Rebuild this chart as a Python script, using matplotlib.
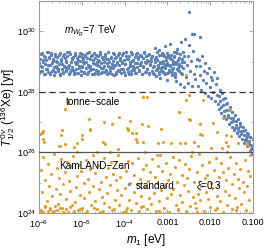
import matplotlib
matplotlib.use("Agg")
import matplotlib.pyplot as plt
import numpy as np
from matplotlib.ticker import LogLocator, NullFormatter

# ---- data (log10 m1 [eV], log10 T1/2 [yr]) ----

# blue band, flat part
band_logm = [
    -5.99, -5.97, -5.96, -5.94, -5.92, -5.91, -5.89, -5.87, -5.85, -5.84,
    -5.82, -5.80, -5.79, -5.77, -5.75, -5.74, -5.72, -5.70, -5.68, -5.67,
    -5.65, -5.63, -5.62, -5.60, -5.58, -5.57, -5.55, -5.53, -5.51, -5.50,
    -5.48, -5.46, -5.45, -5.43, -5.41, -5.40, -5.38, -5.36, -5.34, -5.33,
    -5.31, -5.29, -5.28, -5.26, -5.24, -5.23, -5.21, -5.19, -5.17, -5.16,
    -5.14, -5.12, -5.11, -5.09, -5.07, -5.06, -5.04, -5.02, -5.00, -4.99,
    -4.97, -4.95, -4.94, -4.92, -4.90, -4.89, -4.87, -4.85, -4.83, -4.82,
    -4.80, -4.78, -4.77, -4.75, -4.73, -4.72, -4.70, -4.68, -4.66, -4.65,
    -4.63, -4.61, -4.60, -4.58, -4.56, -4.55, -4.53, -4.51, -4.49, -4.48,
    -4.46, -4.44, -4.43, -4.41, -4.39, -4.38, -4.36, -4.34, -4.32, -4.31,
    -4.29, -4.27, -4.26, -4.24, -4.22, -4.21, -4.19, -4.17, -4.15, -4.14,
    -4.12, -4.10, -4.09, -4.07, -4.05, -4.04, -4.02, -4.00, -3.98, -3.97,
    -3.95, -3.93, -3.92, -3.90, -3.88, -3.87, -3.85, -3.83, -3.81, -3.80,
    -3.78, -3.76, -3.75, -3.73, -3.71, -3.70, -3.68, -3.66, -3.64, -3.63,
    -3.61, -3.59, -3.58, -3.56, -3.54, -3.53, -3.51, -3.49, -3.47, -3.46,
    -3.44, -3.42, -3.41, -3.39, -3.37, -3.36, -3.34, -3.32, -3.30, -3.29,
    -3.27, -3.25, -3.24, -3.22, -3.20, -3.19, -3.17, -3.15, -3.13, -3.12,
    -3.10, -3.08, -3.07, -3.05, -3.03, -3.02, -3.00, -2.98, -2.96, -2.95,
    -2.93, -2.91, -2.90, -2.88, -2.86, -2.85, -2.83, -2.81, -2.79, -2.78,
    -2.76, -2.74, -2.73, -2.71, -2.69, -2.68, -2.66, -2.64, -2.62, -2.61,
    # second sweep
    -5.995, -5.975, -5.952, -5.930, -5.908, -5.885, -5.864, -5.842, -5.820, -5.798,
    -5.776, -5.754, -5.732, -5.710, -5.688, -5.666, -5.644, -5.622, -5.600, -5.578,
    -5.556, -5.534, -5.512, -5.490, -5.468, -5.446, -5.424, -5.402, -5.380, -5.358,
    -5.336, -5.314, -5.292, -5.270, -5.248, -5.226, -5.204, -5.182, -5.160, -5.138,
    -5.116, -5.094, -5.072, -5.050, -5.028, -5.006, -4.984, -4.962, -4.940, -4.918,
    -4.896, -4.874, -4.852, -4.830, -4.808, -4.786, -4.764, -4.742, -4.720, -4.698,
    -4.676, -4.654, -4.632, -4.610, -4.588, -4.566, -4.544, -4.522, -4.500, -4.478,
    -4.456, -4.434, -4.412, -4.390, -4.368, -4.346, -4.324, -4.302, -4.280, -4.258,
    -4.236, -4.214, -4.192, -4.170, -4.148, -4.126, -4.104, -4.082, -4.060, -4.038,
    -4.016, -3.994, -3.972, -3.950, -3.928, -3.906, -3.884, -3.862, -3.840, -3.818,
    -3.796, -3.774, -3.752, -3.730, -3.708, -3.686, -3.664, -3.642, -3.620, -3.598,
    -3.576, -3.554, -3.532, -3.510, -3.488, -3.466, -3.444, -3.422, -3.400, -3.378,
    -3.356, -3.334, -3.312, -3.290, -3.268, -3.246, -3.224, -3.202, -3.180, -3.158,
    -3.136, -3.114, -3.092, -3.070, -3.048, -3.026, -3.004, -2.982, -2.960, -2.938,
    -2.916, -2.894, -2.872, -2.850, -2.828, -2.806, -2.784, -2.762, -2.740, -2.718,
]
band_logT = [
    28.62, 29.10, 28.85, 29.27, 28.70, 28.98, 29.18, 28.58, 28.91, 29.05,
    28.77, 29.30, 28.66, 29.14, 28.88, 28.60, 29.22, 28.95, 28.73, 29.08,
    28.83, 29.25, 28.64, 29.01, 28.80, 29.16, 28.69, 28.93, 29.29, 28.57,
    29.03, 28.75, 29.20, 28.61, 28.87, 29.12, 28.68, 28.97, 29.31, 28.79,
    28.90, 28.59, 29.24, 28.72, 29.07, 28.82, 29.15, 28.65, 28.99, 29.28,
    28.74, 29.11, 28.94, 28.63, 29.19, 28.86, 29.02, 28.57, 29.26, 28.81,
    29.09, 28.67, 28.96, 29.23, 28.78, 28.60, 29.13, 28.89, 29.32, 28.71,
    28.84, 29.17, 28.58, 29.04, 28.76, 29.29, 28.92, 28.63, 29.21, 28.99,
    28.69, 29.06, 28.87, 29.26, 28.61, 28.94, 29.14, 28.79, 29.00, 28.66,
    29.18, 28.73, 29.09, 28.59, 28.85, 29.30, 28.97, 28.68, 29.12, 28.82,
    28.60, 29.02, 28.78, 29.24, 28.90, 28.64, 29.16, 28.95, 28.72, 29.27,
    28.88, 29.13, 28.62, 28.98, 29.21, 28.75, 29.05, 28.57, 28.93, 29.31,
    29.08, 28.80, 28.67, 29.19, 28.91, 29.00, 28.59, 29.25, 28.76, 28.86,
    28.71, 29.15, 28.96, 28.61, 29.28, 28.83, 29.07, 28.69, 29.22, 28.92,
    28.99, 28.58, 29.11, 28.84, 29.30, 28.65, 28.94, 29.17, 28.77, 29.03,
    28.63, 29.26, 28.89, 29.01, 28.70, 29.20, 28.81, 28.60, 29.10, 28.97,
    29.14, 28.74, 29.04, 28.87, 28.58, 29.23, 28.95, 28.68, 29.29, 28.82,
    28.66, 28.93, 29.19, 28.79, 29.06, 28.61, 29.27, 28.90, 28.72, 29.12,
    28.86, 29.22, 28.64, 29.00, 28.80, 29.16, 28.57, 28.96, 29.32, 28.75,
    29.05, 28.69, 28.91, 29.25, 28.62, 28.84, 29.09, 28.78, 29.18, 28.98,
    # second sweep
    28.95, 28.68, 29.24, 28.81, 29.06, 28.59, 29.15, 28.74, 29.30, 28.88,
    29.12, 28.63, 28.90, 29.28, 28.70, 29.01, 28.57, 29.19, 28.84, 28.97,
    28.76, 29.21, 28.60, 29.09, 28.93, 28.66, 29.26, 28.82, 29.03, 28.71,
    29.17, 28.86, 29.32, 28.64, 28.99, 29.11, 28.73, 28.58, 29.23, 28.91,
    28.62, 29.04, 28.79, 29.27, 28.69, 29.14, 28.87, 29.00, 28.61, 29.20,
    28.98, 29.29, 28.67, 28.83, 29.08, 28.75, 29.22, 28.94, 28.58, 29.13,
    28.72, 28.89, 29.18, 28.60, 29.02, 29.31, 28.78, 28.65, 29.10, 28.85,
    29.25, 28.70, 28.96, 29.07, 28.63, 28.80, 29.16, 28.92, 29.29, 28.57,
    28.87, 29.13, 28.59, 28.99, 29.22, 28.68, 29.05, 28.77, 28.94, 29.27,
    28.64, 28.91, 29.20, 28.74, 29.10, 28.58, 28.86, 29.30, 28.69, 29.01,
    29.06, 28.79, 28.62, 29.24, 28.95, 29.15, 28.71, 28.88, 29.19, 28.60,
    28.83, 29.28, 28.97, 28.66, 29.04, 28.75, 29.23, 28.59, 28.92, 29.11,
    29.17, 28.61, 28.85, 29.09, 28.73, 29.32, 28.90, 28.67, 29.00, 28.78,
    28.70, 29.02, 29.26, 28.82, 28.58, 29.14, 28.96, 29.21, 28.65, 28.89,
    29.08, 28.76, 28.93, 29.18, 28.63, 28.99, 29.27, 28.72, 29.12, 28.84,
]

# blue, falling part (plus a few outliers)
tail_logm = [
    -3.30, -3.27, -3.25, -3.22, -3.20, -3.17, -3.14, -3.12, -3.09, -3.06,
    -3.04, -3.01, -2.98, -2.96, -2.93, -2.90, -2.88, -2.85, -2.83, -2.80,
    -2.79, -2.77, -2.75, -2.73, -2.71, -2.69, -2.67, -2.65, -2.63, -2.61,
    -2.59, -2.57, -2.55, -2.53, -2.51, -2.49, -2.47, -2.45, -2.43, -2.41,
    -2.39, -2.37, -2.35, -2.33, -2.31, -2.50, -2.43, -2.24, -3.89,
    -2.29, -2.27, -2.25, -2.23, -2.21, -2.19, -2.17, -2.15, -2.13, -2.11,
    -2.09, -2.07, -2.05, -2.03, -2.01, -1.99, -1.97, -1.95, -1.93, -1.91,
    -1.89, -1.87, -1.85, -1.83, -1.81,
    -1.80, -1.78, -1.76, -1.74, -1.72, -1.70, -1.68, -1.66, -1.64, -1.62,
    -1.60, -1.58, -1.56, -1.54, -1.52, -1.50, -1.48, -1.46, -1.44, -1.42,
    -1.40, -1.38, -1.36, -1.34, -1.32, -1.30, -1.28, -1.26, -1.24, -1.22,
    -1.20, -1.18, -1.16, -1.14, -1.12, -1.10, -1.08, -1.06, -1.04, -1.02,
    -1.79, -1.75, -1.71, -1.67, -1.63, -1.59, -1.55, -1.51, -1.47, -1.43,
    -1.39, -1.35, -1.31, -1.27, -1.23, -1.19, -1.15, -1.11, -1.07, -1.03,
    -1.01, -1.05, -1.09, -1.13, -1.17,
]
tail_logT = [
    29.45, 28.52, 29.05, 28.78, 29.38, 28.45, 28.95, 29.22, 28.62, 29.50,
    28.88, 28.40, 29.15, 28.70, 29.58, 28.55, 29.02, 29.30, 28.48, 28.92,
    28.35, 29.42, 28.80, 29.12, 28.25, 29.65, 28.60, 28.98, 29.30, 28.15,
    29.75, 28.50, 28.90, 29.20, 28.30, 29.55, 28.70, 29.02, 28.20, 29.35,
    28.58, 29.90, 28.42, 28.85, 29.10, 30.64, 29.92, 29.82, 24.95,
    28.20, 29.05, 28.55, 28.85, 28.05, 29.20, 28.40, 28.70, 27.95, 28.95,
    28.30, 28.62, 27.85, 28.80, 28.15, 28.50, 27.80, 28.40, 28.00, 28.65,
    27.70, 28.25, 27.90, 28.45, 27.60,
    27.45, 28.05, 27.70, 27.30, 27.95, 27.55, 27.20, 27.80, 27.40, 27.10,
    27.62, 27.25, 26.95, 27.50, 27.15, 26.85, 27.35, 27.05, 26.75, 27.25,
    26.90, 26.65, 27.10, 26.80, 26.55, 26.98, 26.70, 26.45, 26.85, 26.58,
    26.30, 26.75, 26.48, 26.20, 26.62, 26.38, 26.05, 26.52, 26.25, 25.95,
    27.85, 27.50, 27.75, 27.38, 27.60, 27.18, 27.40, 27.00, 27.15, 26.82,
    27.05, 26.70, 26.88, 26.60, 26.72, 26.42, 26.65, 26.35, 26.50, 26.15,
    26.45, 26.10, 26.28, 26.55, 26.40,
]

# orange, above the KamLAND-Zen line
upper_logm = [
    -5.98, -5.94, -5.90, -5.91, -5.88, -5.47, -5.49, -5.39, -5.53, -5.00,
    -4.99, -5.18, -4.82, -4.83, -5.32, -5.39, -4.50, -4.46, -4.47, -4.30,
    -4.12, -3.95, -3.91, -3.83, -3.87, -3.73, -3.73, -3.72, -3.56, -3.45,
    -3.59, -4.16, -5.51, -5.12, -4.65, -4.34, -3.52, -3.48, -3.57, -2.57,
    -2.50, -2.57, -2.17, -2.74, -2.50, -1.54, -1.70, -2.72, -2.47, -2.25,
    -1.94, -3.16, -2.24, -2.20, -1.85, -1.63, -1.51, -1.63, -3.21, -3.10,
    -2.92, -2.71, -2.59, -2.37, -2.29, -1.97, -1.73, -1.58, -1.34, -1.15,
    -1.11, -3.25, -2.43, -1.61, -1.07, -4.81, -3.92, -5.12,
]
upper_logT = [
    26.61, 26.63, 26.72, 26.44, 26.36, 26.74, 26.58, 26.27, 26.22, 26.58,
    26.44, 26.17, 26.74, 27.11, 27.67, 27.44, 26.34, 26.28, 26.99, 26.94,
    27.16, 26.80, 26.74, 26.63, 27.05, 26.63, 26.44, 26.36, 26.36, 26.88,
    26.93, 26.10, 26.21, 26.03, 26.01, 26.03, 26.03, 27.83, 27.84, 28.56,
    27.90, 27.74, 27.74, 27.32, 27.10, 27.40, 27.14, 27.33, 27.07, 26.94,
    26.96, 26.78, 26.60, 26.58, 26.67, 26.56, 26.53, 26.36, 26.30, 26.36,
    26.30, 26.32, 26.30, 26.36, 26.20, 26.14, 26.14, 26.21, 26.30, 26.32,
    26.20, 25.92, 26.03, 26.00, 25.92, 26.78, 26.78, 26.30,
]

# orange, below the KamLAND-Zen line
lower_logm = [
    -5.98, -5.95, -5.93, -5.90, -5.87, -5.85, -5.82, -5.79, -5.77, -5.74,
    -5.72, -5.69, -5.66, -5.64, -5.61, -5.59, -5.56, -5.53, -5.51, -5.48,
    -5.46, -5.43, -5.40, -5.38, -5.35, -5.33, -5.30, -5.27, -5.25, -5.22,
    -5.20, -5.17, -5.14, -5.12, -5.09, -5.07, -5.04, -5.01, -4.99, -4.96,
    -4.94, -4.91, -4.88, -4.86, -4.83, -4.81, -4.78, -4.75, -4.73, -4.70,
    -4.68, -4.65, -4.62, -4.60, -4.57, -4.55, -4.52, -4.49, -4.47, -4.44,
    -4.42, -4.39, -4.36, -4.34, -4.31, -4.29, -4.26, -4.23, -4.21, -4.18,
    -4.16, -4.13, -4.10, -4.08, -4.05, -4.03, -4.00, -3.97, -3.95, -3.92,
    -3.90, -3.87, -3.84, -3.82, -3.79, -3.77, -3.74, -3.71, -3.69, -3.66,
    -3.64, -3.61, -3.58, -3.56, -3.53, -3.51, -3.48, -3.45, -3.43, -3.40,
    -3.38, -3.35, -3.32, -3.30, -3.27, -3.25, -3.22, -3.19, -3.17, -3.14,
    -3.12, -3.09, -3.06, -3.04, -3.01, -2.99, -2.96, -2.93, -2.91, -2.88,
    -2.86, -2.83, -2.80, -2.78, -2.75, -2.73, -2.70, -2.67, -2.65, -2.62,
    -2.60, -2.57, -2.54, -2.52, -2.49, -2.47, -2.44, -2.41, -2.39, -2.36,
    -2.34, -2.31, -2.28, -2.26, -2.23, -2.21, -2.18, -2.15, -2.13, -2.10,
    -2.08, -2.05, -2.02, -2.00, -1.97, -1.95, -1.92, -1.89, -1.87, -1.84,
    -1.82, -1.79, -1.76, -1.74, -1.71, -1.69, -1.66, -1.63, -1.61, -1.58,
    -1.56, -1.53, -1.50, -1.48, -1.45, -1.43, -1.40, -1.37, -1.35, -1.32,
    -1.30, -1.27, -1.24, -1.22, -1.19, -1.17, -1.14, -1.11, -1.09, -1.06,
    -5.96, -5.91, -5.86, -5.80, -5.75, -5.70, -5.63, -5.57, -5.50, -5.44,
    -5.36, -5.28, -5.18, -5.05, -4.92, -4.72, -4.50, -4.25, -3.96, -3.62,
    -3.20, -2.75, -2.30, -1.85, -1.40,
]
lower_logT = [
    24.05, 25.42, 24.68, 25.85, 24.22, 25.10, 24.40, 25.63, 24.90, 24.12,
    25.28, 24.55, 25.95, 24.08, 24.80, 25.50, 24.30, 25.15, 24.62, 25.78,
    24.18, 24.95, 25.35, 24.45, 25.70, 24.03, 25.05, 24.72, 25.55, 24.26,
    25.88, 24.35, 24.85, 25.22, 24.10, 25.60, 24.58, 25.40, 24.15, 24.98,
    24.48, 25.75, 24.06, 25.12, 24.70, 25.45, 24.25, 25.90, 24.88, 24.38,
    25.32, 24.14, 25.58, 24.78, 24.02, 25.02, 24.52, 25.80, 24.32, 25.20,
    24.65, 25.48, 24.20, 24.92, 25.68, 24.09, 25.30, 24.42, 25.08, 24.75,
    25.92, 24.28, 25.18, 24.60, 25.52, 24.04, 24.83, 25.38, 24.16, 25.72,
    24.44, 25.00, 24.11, 25.65, 24.70, 25.25, 24.34, 24.95, 25.82, 24.07,
    25.12, 24.56, 25.44, 24.23, 24.86, 25.60, 24.13, 25.06, 24.50, 25.35,
    24.30, 25.78, 24.66, 25.20, 24.05, 24.98, 25.55, 24.40, 25.90, 24.76,
    25.40, 24.18, 24.90, 25.65, 24.48, 25.10, 24.02, 25.30, 24.62, 25.85,
    24.80, 25.52, 24.27, 25.02, 24.12, 25.74, 24.58, 25.24, 24.36, 24.94,
    25.62, 24.08, 25.16, 24.72, 25.46, 24.22, 25.88, 24.54, 25.04, 24.33,
    24.15, 25.34, 24.64, 25.96, 24.42, 24.88, 25.58, 24.06, 25.14, 24.70,
    25.26, 24.46, 25.70, 24.19, 25.00, 24.82, 25.42, 24.10, 25.80, 24.57,
    24.92, 25.18, 24.38, 25.64, 24.03, 25.36, 24.74, 25.08, 24.25, 25.50,
    24.60, 25.84, 24.14, 24.96, 25.28, 24.50, 25.66, 24.20, 25.12, 24.84,
    25.46, 24.31, 25.02, 24.68, 25.76, 24.09, 24.90, 25.38, 24.44, 25.22,
    24.10, 24.02, 24.20, 24.07, 24.15, 24.04, 24.24, 24.09, 24.17, 24.03,
    24.12, 24.21, 24.06, 24.14, 24.01, 24.18, 24.08, 24.13, 24.05, 24.19,
    24.07, 24.11, 24.04, 24.16, 24.09,
]

# limits
tonne_scale = 1e28
kamland_zen = 1e26

x_ticks = [1e-6, 1e-5, 1e-4, 1e-3, 1e-2, 1e-1]
x_ticklabels = ['$10^{-6}$', '$10^{-5}$', '$10^{-4}$', '0.001', '0.010', '0.100']
y_ticks = [1e24, 1e26, 1e28, 1e30]
y_ticklabels = ['$10^{24}$', '$10^{26}$', '$10^{28}$', '$10^{30}$']

BLUE = '#5E81B5'
ORANGE = '#E19C24'
FRAME = '#9a9a9a'

plt.rcParams['font.family'] = ['Liberation Sans', 'DejaVu Sans']
plt.rcParams['mathtext.fontset'] = 'custom'
plt.rcParams['mathtext.rm'] = 'Liberation Sans'
plt.rcParams['mathtext.it'] = 'Liberation Sans:italic'
plt.rcParams['mathtext.bf'] = 'Liberation Sans:bold'

fig = plt.figure(figsize=(2.66, 2.48), dpi=100)
ax = fig.add_axes([39 / 266, 35 / 248, 214 / 266, 212 / 248])

blue_m = 10 ** np.array(band_logm + tail_logm)
blue_T = 10 ** np.array(band_logT + tail_logT)
orange_m = 10 ** np.array(upper_logm + lower_logm)
orange_T = 10 ** np.array(upper_logT + lower_logT)

ax.plot(blue_m, blue_T, 'o', color=BLUE, ms=2.4, mew=0, zorder=2)
ax.plot(orange_m, orange_T, 'o', color=ORANGE, ms=2.2, mew=0, zorder=3)

ax.axhline(tonne_scale, color='#333333', lw=0.9, ls=(0, (5, 3)), zorder=4)
ax.axhline(kamland_zen, color='#555555', lw=0.9, zorder=4)

ax.set_xscale('log')
ax.set_yscale('log')
ax.set_xlim(1e-6, 1e-1)
ax.set_ylim(1e24, 1e31)

ax.set_xticks(x_ticks)
ax.set_xticklabels(x_ticklabels)
ax.set_yticks(y_ticks)
ax.set_yticklabels(y_ticklabels)
ax.xaxis.set_minor_locator(LogLocator(base=10, subs=np.arange(2, 10)))
ax.yaxis.set_minor_locator(LogLocator(base=10, subs=[1.0], numticks=20))
ax.xaxis.set_minor_formatter(NullFormatter())
ax.yaxis.set_minor_formatter(NullFormatter())

ax.tick_params(which='both', direction='in', top=True, right=True,
               color=FRAME, labelsize=6.5)
ax.tick_params(axis='x', which='major', pad=3.5)
ax.tick_params(axis='y', which='major', pad=2)
ax.tick_params(which='major', length=3, width=0.6)
ax.tick_params(which='minor', length=1.5, width=0.5)
for sp in ax.spines.values():
    sp.set_color(FRAME)
    sp.set_linewidth(0.8)

ax.set_xlabel('$m_1$ [eV]', fontsize=8.5, labelpad=2)
ax.set_ylabel(r'$T^{0\,\nu}_{1/2}$ ($^{136}$Xe) [yr]', fontsize=8.5, labelpad=0)

ax.text(0.243, 0.857, r'$m_{W_R}$=7 TeV', transform=ax.transAxes,
        fontsize=7.2, ha='center', va='center', zorder=5)
ax.text(0.252, 0.525, 'tonne\u2212scale', transform=ax.transAxes,
        fontsize=7.2, ha='center', va='center', zorder=5)
ax.text(0.257, 0.222, 'KamLAND\u2212Zen', transform=ax.transAxes,
        fontsize=7.2, ha='center', va='center', zorder=5)
ax.text(0.544, 0.128, 'standard', transform=ax.transAxes,
        fontsize=7.2, ha='center', va='center', zorder=5)
ax.text(0.794, 0.128, '$\\xi$=0.3', transform=ax.transAxes,
        fontsize=7.2, ha='center', va='center', zorder=5)

fig.savefig('out.png', dpi=100)
